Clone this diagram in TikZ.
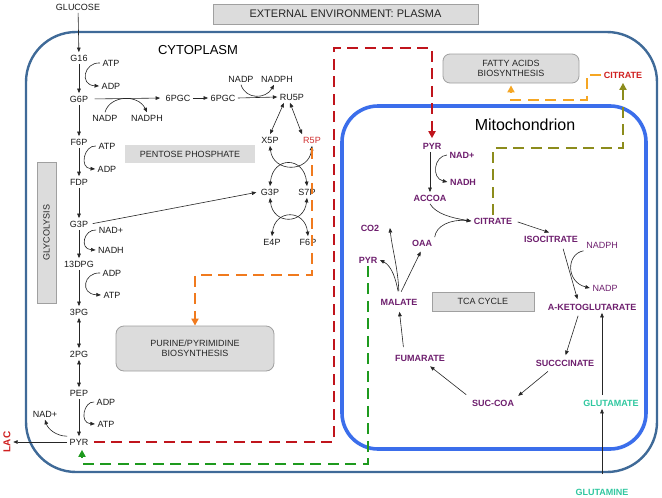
\documentclass[tikz,border=0pt]{standalone}
\usepackage{fontspec}
\setmainfont{Liberation Sans}
\usetikzlibrary{arrows.meta}
\definecolor{cellc}{HTML}{3F6A98}
\definecolor{mitoc}{HTML}{3B6EEB}
\definecolor{redd}{HTML}{C0141C}
\definecolor{greend}{HTML}{1E9A1E}
\definecolor{orangeA}{HTML}{F07A1E}
\definecolor{orangeB}{HTML}{F5A623}
\definecolor{olived}{HTML}{8C8C1C}
\definecolor{mpurple}{HTML}{6E1F6E}
\definecolor{tealc}{HTML}{30C8A0}
\definecolor{rfivered}{HTML}{D03030}
\definecolor{lacred}{HTML}{D02020}
\definecolor{boxfill}{HTML}{DCDCDC}
\definecolor{boxdraw}{HTML}{A0A0A0}
\begin{document}
\begin{tikzpicture}[x=1pt,y=-1pt,
  lbl/.style={font=\fontsize{9}{10}\selectfont, inner sep=2.5pt, text=black!90},
  mlbl/.style={font=\bfseries\fontsize{9}{10}\selectfont, inner sep=2.5pt, text=mpurple},
  gbox/.style={draw=boxdraw, fill=boxfill, line width=0.8pt, font=\fontsize{9}{10}\selectfont, inner sep=2pt, text=black!85},
  arr/.style={draw=black!85, line width=0.6pt, -{Triangle[length=4.5pt,width=3.6pt]}},
  darr/.style={draw=black!85, line width=0.6pt, {Triangle[length=4.5pt,width=3.6pt]}-{Triangle[length=4.5pt,width=3.6pt]}},
  dline/.style={line width=2.6pt, dash pattern=on 11pt off 6.5pt, -{Triangle[length=7pt,width=7pt]}},
  cellline/.style={draw=cellc, line width=2.4pt},
  mitoline/.style={draw=mitoc, line width=3.6pt}]
\useasboundingbox (0,0) rectangle (662,498);
\fill[white] (0,0) rectangle (662,498);

% compartments
\draw[cellline, rounded corners=50pt] (26,32) rectangle (657,472);
\draw[mitoline, rounded corners=36pt] (342,106) rectangle (646,449);

% label boxes
\node[gbox, minimum width=265pt, minimum height=20pt, font=\fontsize{11}{12}\selectfont] (ext) at (345.5,14) {EXTERNAL ENVIRONMENT: PLASMA};
\node[gbox, rotate=90, minimum width=141pt, minimum height=19pt] (glyc) at (46.5,232.5) {GLYCOLYSIS};
\node[fill=boxfill, minimum width=130pt, minimum height=18pt, font=\fontsize{9}{10}\selectfont, inner sep=2pt, text=black!85] (ppp) at (190,154) {PENTOSE PHOSPHATE};
\node[gbox, rounded corners=8pt, minimum width=158pt, minimum height=45pt, align=center] (pur) at (195,348.5) {PURINE/PYRIMIDINE\\BIOSYNTHESIS};
\node[gbox, rounded corners=7pt, minimum width=136pt, minimum height=29pt, align=center] (fat) at (511,68.5) {FATTY ACIDS\\BIOSYNTHESIS};
\node[gbox, minimum width=102pt, minimum height=19pt] (tca) at (483,301.5) {TCA CYCLE};

\node[font=\fontsize{13}{15}\selectfont] (cyto) at (198,50) {CYTOPLASM};
\node[font=\fontsize{16}{18}\selectfont] (mitolab) at (525,125) {Mitochondrion};

% cytoplasm metabolites
\node[lbl] (glc) at (78,7) {GLUCOSE};
\node[lbl] (g16) at (79,58) {G16};
\node[lbl] (atp1) at (111,63) {ATP};
\node[lbl] (adp1) at (111,86) {ADP};
\node[lbl] (g6p) at (79,99) {G6P};
\node[lbl] (nadp1) at (105,118) {NADP};
\node[lbl] (nadph1) at (147,118) {NADPH};
\node[lbl] (pgc1) at (178,98) {6PGC};
\node[lbl] (pgc2) at (223,98) {6PGC};
\node[lbl] (nadp2) at (241,79) {NADP};
\node[lbl] (nadph2) at (277,79) {NADPH};
\node[lbl] (ru5p) at (292,97) {RU5P};
\node[lbl] (x5p) at (270,140) {X5P};
\node[lbl, text=rfivered] (r5p) at (312,140) {R5P};
\node[lbl] (g3pb) at (270,192) {G3P};
\node[lbl] (s7p) at (307,192) {S7P};
\node[lbl] (e4p) at (272,242) {E4P};
\node[lbl] (f6pb) at (308,242) {F6P};
\node[lbl] (f6p) at (79,142) {F6P};
\node[lbl] (atp2) at (107,146) {ATP};
\node[lbl] (adp2) at (107,169) {ADP};
\node[lbl] (fdp) at (79,182) {FDP};
\node[lbl] (g3p) at (79,224) {G3P};
\node[lbl] (nad1) at (111,230) {NAD+};
\node[lbl] (nadh1) at (111,250) {NADH};
\node[lbl] (dpg) at (79,264) {13DPG};
\node[lbl] (adp3) at (112,273) {ADP};
\node[lbl] (atp3) at (112,295) {ATP};
\node[lbl] (pg3) at (79,312) {3PG};
\node[lbl] (pg2) at (79,354) {2PG};
\node[lbl] (pep) at (79,393) {PEP};
\node[lbl] (adp4) at (106,402) {ADP};
\node[lbl] (atp4) at (106,424) {ATP};
\node[lbl] (pyr) at (79,442) {PYR};
\node[lbl] (nad2) at (45,414) {NAD+};
\node[lbl, rotate=90, text=lacred, font=\bfseries\fontsize{10}{11}\selectfont] (lac) at (7,442) {LAC};

% glycolysis arrows
\draw[arr] (glc) -- (g16);
\draw[arr] (g16) -- (g6p);
\draw[arr] (g6p) -- (f6p);
\draw[arr] (f6p) -- (fdp);
\draw[arr] (fdp) -- (g3p);
\draw[arr] (g3p) -- (dpg);
\draw[arr] (dpg) -- (pg3);
\draw[darr] (pg3) -- (pg2);
\draw[darr] (pg2) -- (pep);
\draw[arr] (pep) -- (pyr);
\draw[arr] (pyr) -- (lac);
\draw[arr] (pyr.north west) .. controls (56,436) and (48,429) .. (nad2.south);

% cofactors
\draw[arr] (atp1.west) .. controls (84,62) and (79,85) .. (adp1.west);
\draw[arr] (atp2.west) .. controls (84,145) and (79,168) .. (adp2.west);
\draw[arr] (nad1.west) .. controls (84,229) and (79,249) .. (nadh1.west);
\draw[arr] (adp3.west) .. controls (84,272) and (79,294) .. (atp3.west);
\draw[arr] (adp4.west) .. controls (84,401) and (79,423) .. (atp4.west);

% pentose phosphate
\draw[arr, shorten <=4pt, shorten >=3pt] (g6p.east) -- (pgc1.west);
\draw[arr] (nadp1.north) .. controls (110,95) and (138,94) .. (nadph1.north);
\draw[arr] (pgc1.east) -- (pgc2.west);
\draw[arr] (pgc2.east) -- (ru5p.west);
\draw[arr] (nadp2.south) .. controls (246,100) and (266,99) .. ([xshift=-3pt]nadph2.south);
\draw[darr] ([xshift=-8pt]ru5p.south) -- (x5p.north);
\draw[darr] ([xshift=-2pt]ru5p.south) -- ([xshift=-10pt]r5p.north);
\draw[darr] (x5p.south) .. controls (273,173) and (309,173) .. (r5p.south);
\draw[darr] (g3pb.north) .. controls (273,156) and (304,156) .. (s7p.north);
\draw[darr] (g3pb.south) .. controls (273,225) and (304,225) .. (s7p.south);
\draw[darr] (e4p.north) .. controls (275,209) and (305,209) .. (f6pb.north);
\draw[arr, shorten <=2pt, shorten >=2pt] (g3p.east) -- (g3pb.west);

% mitochondrion metabolites
\node[mlbl] (mpyr) at (432,146) {PYR};
\node[mlbl] (nad3) at (462,155) {NAD+};
\node[mlbl] (nadh3) at (463,182) {NADH};
\node[mlbl] (accoa) at (430,198) {ACCOA};
\node[mlbl] (cit) at (493,221) {CITRATE};
\node[mlbl] (iso) at (551,239) {ISOCITRATE};
\node[lbl, text=mpurple] (nadph3) at (602,245) {NADPH};
\node[lbl, text=mpurple] (nadp3) at (605,288) {NADP};
\node[mlbl] (akg) at (592,307) {A-KETOGLUTARATE};
\node[mlbl] (succ) at (565,363) {SUCCCINATE};
\node[mlbl] (succoa) at (493,403) {SUC-COA};
\node[mlbl] (fum) at (420,358) {FUMARATE};
\node[mlbl] (mal) at (399,302) {MALATE};
\node[mlbl] (oaa) at (422,243) {OAA};
\node[mlbl] (co2) at (370,228) {CO2};
\node[mlbl] (mpyrb) at (368,260) {PYR};
\node[mlbl, text=tealc] (glu) at (611,403) {GLUTAMATE};
\node[mlbl, text=tealc] (gln) at (602,492) {GLUTAMINE};
\node[mlbl, text=lacred] (ccit) at (623,75) {CITRATE};

% TCA arrows
\draw[arr] ([xshift=-2pt]mpyr.south) -- (accoa.north);
\draw[arr] (nad3.west) .. controls (434,156) and (431,178) .. (nadh3.west);
\draw[arr] (accoa.south) .. controls (436,214) and (452,218) .. (cit.west);
\draw[arr] (oaa.north east) .. controls (436,226) and (450,219) .. (cit.west);
\draw[arr, shorten <=3pt, shorten >=2pt] (cit.east) -- (iso.north);
\draw[arr, shorten <=4pt, shorten >=2pt] ([xshift=11pt]iso.south) -- ([xshift=-14pt]akg.north);
\draw[arr] (nadph3.south west) .. controls (566,254) and (566,282) .. (nadp3.west);
\draw[arr, shorten <=3pt, shorten >=2pt] ([xshift=-13pt]akg.south) -- (succ.north);
\draw[arr, shorten <=2pt] ([xshift=-9pt]glu.north) -- ([xshift=10pt]akg.south);
\draw[arr, shorten <=12pt] (gln.north) -- ([xshift=-9pt]glu.south);
\draw[arr, shorten <=4pt, shorten >=2pt] ([xshift=-14pt]succ.south) -- (succoa.north east);
\draw[arr, shorten <=4pt, shorten >=4pt] (succoa.north west) -- ([xshift=7pt]fum.south);
\draw[arr, shorten <=5pt, shorten >=4pt] ([xshift=-16pt]fum.north) -- (mal.south);
\draw[arr, shorten <=5pt, shorten >=3pt] (mal.north) -- (oaa.south);
\draw[arr, shorten <=5pt] (mal.north) .. controls (398,268) and (392,248) .. ([xshift=8pt]co2.east);
\draw[arr, shorten <=5pt] (mal.north) .. controls (396,280) and (392,266) .. (mpyrb.east);

% transport / biosynthesis dashed paths
\coordinate (ob) at (312,275);
\draw[dline, draw=orangeA, -{Triangle[length=7pt,width=7pt,fill=orangeA]}, shorten <=2pt] (r5p.south) -- (ob) -| (pur.north);
\coordinate (rb) at (334,48);
\draw[dline, draw=redd, shorten <=3pt, shorten >=2pt] (pyr.east) -| (rb) -| (mpyr.north);
\coordinate (gb) at (368,464);
\draw[dline, draw=greend, shorten >=2pt] (mpyrb.south) |- (gb) -| ([xshift=3pt]pyr.south);
\coordinate (olb) at (493,148);
\draw[dline, draw=olived, shorten >=2pt] (cit.north) |- (olb) -| (ccit.south);
\coordinate (fo) at (587,100);
\draw[dline, draw=orangeB, shorten >=2pt] (ccit.west) -| (fo) -| (fat.south);
\end{tikzpicture}
\end{document}
